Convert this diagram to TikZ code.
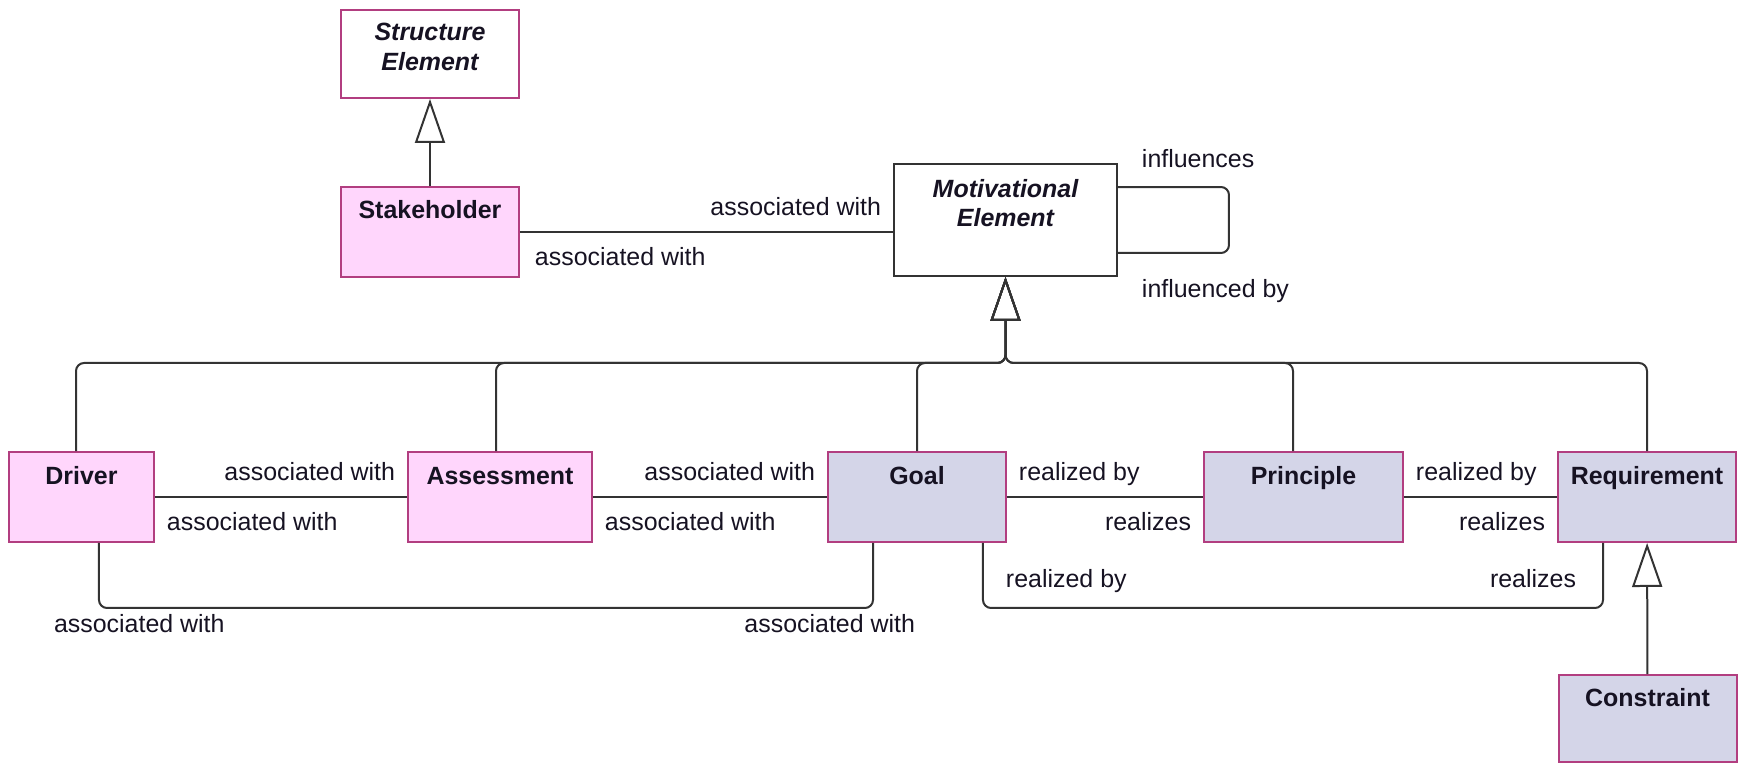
\documentclass[tikz,border=0pt]{standalone}
\usepackage{fontspec}
\setmainfont{Liberation Sans}
\usetikzlibrary{arrows.meta,positioning}
\definecolor{linecolor}{RGB}{51,51,51}
\definecolor{bordercolor}{RGB}{178,62,128}
\definecolor{pinkfill}{RGB}{255,214,252}
\definecolor{bluefill}{RGB}{212,213,232}
\definecolor{lettercolor}{RGB}{22,18,34}
\newcommand{\labelsize}{\fontsize{14.2}{17}\selectfont}
\tikzset{
	block/.style={
		rectangle,
		line width=0.04cm,
		draw=bordercolor,
		inner xsep=0pt,
		inner ysep=0pt,
		minimum width=3.56cm,
		text height=0.64cm,
		text depth=1.16cm,
		text=lettercolor,
		font=\labelsize\bfseries
	},
	pinkblock/.style={
		block,
		fill=pinkfill
	},
	blueblock/.style={
		block,
		fill=bluefill
	},
	abstract/.style={
		block,
		fill=white,
		font=\labelsize\bfseries\itshape
	},
	assoc/.style={
		draw=linecolor,
		line width=0.04cm,
		rounded corners=0.16cm
	},
	general/.style={
		assoc,
		-{Triangle[open,length=0.88cm,width=0.6cm]}
	},
	role/.style={
		inner sep=0pt,
		text=lettercolor,
		font=\labelsize
	},
	labelNE/.style={role,anchor=base west,xshift=0.22cm,yshift=0.34cm},
	labelSE/.style={role,anchor=base west,xshift=0.22cm,yshift=-0.68cm},
	labelNW/.style={role,anchor=base east,xshift=-0.22cm,yshift=0.34cm},
	labelSW/.style={role,anchor=base east,xshift=-0.22cm,yshift=-0.68cm}
}

\begin{document}
\begin{tikzpicture}[x=0.02cm,y=-0.02cm]
	\useasboundingbox (0,0) rectangle (1741,763);
	\node (structure) [abstract,text height=0.62cm,text depth=1.14cm] at (430,54) {\begin{tabular}[t]{@{}c@{}}Structure\\Element\end{tabular}};
	\node (stakeholder) [pinkblock] at (430,232) {Stakeholder};
	\node (motivational) [abstract,draw=linecolor,minimum width=4.46cm,text height=0.66cm,text depth=1.58cm] at (1005.5,220) {\begin{tabular}[t]{@{}c@{}}Motivational\\Element\end{tabular}};
	\node (driver) [pinkblock,minimum width=2.9cm] at (81.5,497) {Driver};
	\node (assessment) [pinkblock,minimum width=3.68cm] at (500,497) {Assessment};
	\node (goal) [blueblock] at (917,497) {Goal};
	\node (principle) [blueblock,minimum width=3.98cm] at (1303.5,497) {Principle};
	\node (requirement) [blueblock] at (1647,497) {Requirement};
	\node (constraint) [blueblock,text height=0.62cm,text depth=1.12cm] at (1647.5,718.5) {Constraint};
	\coordinate (bus) at (1005.5,363);

	\draw [general] (stakeholder) -- (structure);
	\draw [general] (constraint) -- (requirement);
	\foreach \child/\shift in {driver/-0.11,assessment/-0.08,goal/0,principle/-0.21,requirement/0}
		\draw [general] ([xshift=\shift cm]\child.north) |- (bus) -- (motivational);

	\draw [assoc] (stakeholder) -- (stakeholder -| motivational.west) node [pos=0,labelSE,xshift=0.06cm] {associated with} node [pos=1,labelNW] {associated with};
	\draw [assoc] ([yshift=0.66cm]motivational.east) node [role,anchor=base west,xshift=0.46cm,yshift=0.4cm] {influences} -- ++(111,0) |- ([yshift=-0.66cm]motivational.east) node [role,anchor=base west,xshift=0.46cm,yshift=-0.9cm] {influenced by};

	\draw [assoc] (driver) -- (assessment) node [pos=0,labelSE] {associated with} node [pos=1,labelNW] {associated with};
	\draw [assoc] (assessment) -- (goal) node [pos=0,labelSE] {associated with} node [pos=1,labelNW] {associated with};
	\draw [assoc] (goal) -- (principle) node [pos=0,labelNE] {realized by} node [pos=1,labelSW] {realizes};
	\draw [assoc] (principle) -- (requirement) node [pos=0,labelNE] {realized by} node [pos=1,labelSW] {realizes};

	\draw [assoc] ([xshift=0.35cm]driver.south) node [role,anchor=base west,xshift=-0.92cm,yshift=-1.8cm] {associated with} -- ++(0,65) -| ([xshift=-0.88cm]goal.south) node [role,anchor=base east,xshift=0.86cm,yshift=-1.8cm] {associated with};
	\draw [assoc] ([xshift=1.32cm]goal.south) node [role,anchor=base west,xshift=0.44cm,yshift=-0.9cm] {realized by} -- ++(0,65) -| ([xshift=-0.88cm]requirement.south) node [role,anchor=base east,xshift=-0.52cm,yshift=-0.9cm] {realizes};
\end{tikzpicture}
\end{document}
